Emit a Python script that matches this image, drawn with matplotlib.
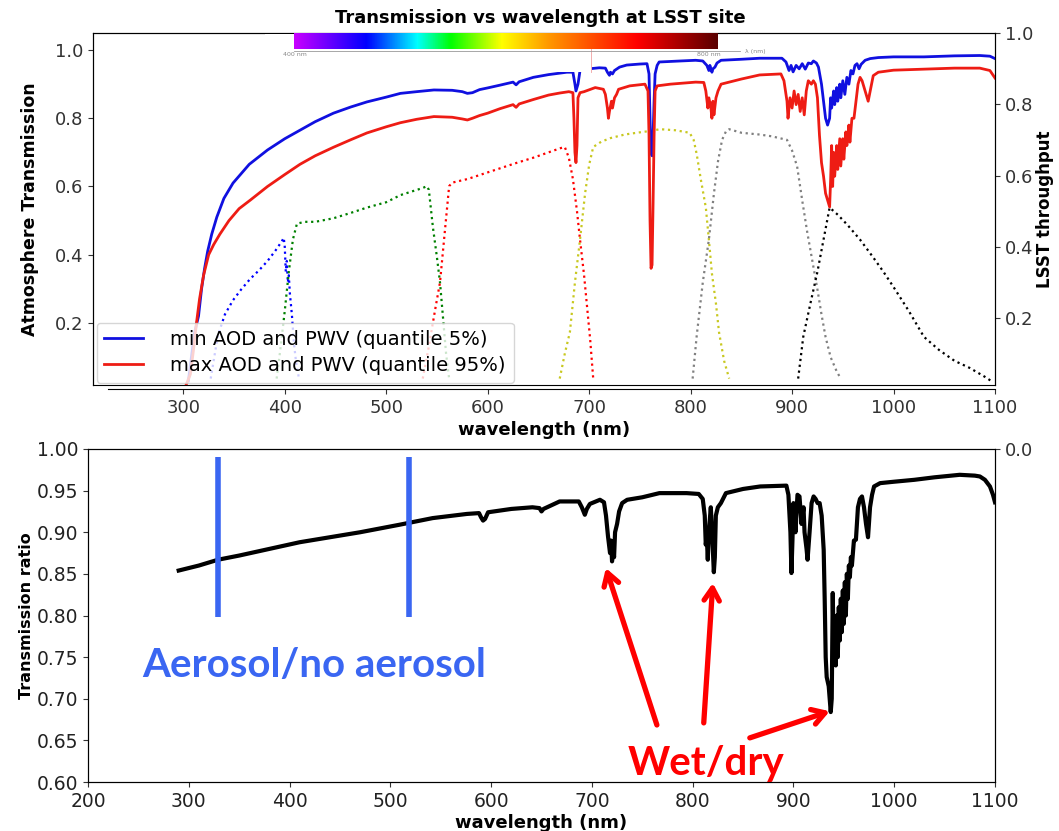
import matplotlib
matplotlib.use('Agg')
import matplotlib.pyplot as plt
import numpy as np
from matplotlib.colors import LinearSegmentedColormap

outfile = "out.png"

# ---- upper panel: atmosphere transmission (left axis) ----
min_wl = [305, 308, 311, 315, 318, 321, 324, 328, 333, 340, 349, 365, 383, 400, 415, 430, 448, 465, 481,
          500, 514, 530, 547, 565, 575, 580, 585, 592, 600, 612, 625, 628, 631, 645, 660, 678, 684, 686,
          687, 689, 691, 700, 710, 716, 718, 720, 721, 723, 725, 730, 737, 750, 757, 759, 760, 761, 762,
          763, 764, 765, 767, 769, 790, 805, 812, 816, 818, 819, 821, 822, 824, 826, 830, 850, 868, 890,
          894, 897, 899, 901, 904, 907, 910, 913, 916, 919, 921, 924, 926, 929, 931, 933, 935, 937, 938,
          939, 941, 942, 944, 945, 947, 948, 950, 952, 954, 956, 958, 960, 962, 964, 966, 968, 972, 977,
          985, 1000, 1030, 1060, 1085, 1095, 1100]
min_tr = [0.03, 0.10, 0.17, 0.22, 0.30, 0.36, 0.41, 0.46, 0.51, 0.565, 0.61, 0.665, 0.707, 0.74, 0.765,
          0.79, 0.815, 0.833, 0.848, 0.862, 0.873, 0.878, 0.883, 0.882, 0.878, 0.873, 0.875, 0.884, 0.889,
          0.897, 0.906, 0.898, 0.907, 0.92, 0.928, 0.935, 0.935, 0.90, 0.88, 0.90, 0.94, 0.945, 0.948,
          0.947, 0.935, 0.926, 0.935, 0.93, 0.94, 0.95, 0.956, 0.959, 0.96, 0.93, 0.80, 0.70, 0.69, 0.75,
          0.85, 0.93, 0.955, 0.965, 0.968, 0.97, 0.968, 0.955, 0.94, 0.955, 0.935, 0.945, 0.95, 0.962,
          0.97, 0.973, 0.976, 0.976, 0.965, 0.94, 0.955, 0.936, 0.955, 0.945, 0.96, 0.944, 0.962, 0.96,
          0.968, 0.962, 0.95, 0.90, 0.85, 0.80, 0.78, 0.80, 0.86, 0.83, 0.88, 0.84, 0.89, 0.85, 0.90, 0.86,
          0.91, 0.87, 0.92, 0.90, 0.94, 0.93, 0.955, 0.96, 0.945, 0.958, 0.97, 0.975, 0.978, 0.98, 0.98,
          0.983, 0.984, 0.982, 0.975]

max_wl = [303, 307, 310, 313, 316, 320, 325, 330, 336, 345, 355, 366, 383, 400, 415, 430, 448, 465, 481,
          500, 514, 530, 547, 565, 575, 580, 585, 592, 600, 612, 625, 628, 631, 645, 660, 671, 680, 684,
          685, 686, 687, 688, 689, 691, 695, 706, 714, 716, 718, 719, 720, 722, 723, 725, 727, 729, 740,
          755, 758, 759, 760, 761, 762, 763, 764, 765, 767, 780, 805, 813, 815, 817, 818, 820, 821, 822,
          823, 825, 827, 830, 850, 868, 889, 892, 895, 896, 898, 900, 902, 904, 906, 908, 910, 912, 914,
          916, 919, 921, 923, 925, 927, 929, 931, 933, 935, 937, 938, 939, 940, 941, 942, 944, 945, 947,
          948, 950, 951, 953, 954, 956, 957, 959, 961, 963, 965, 967, 969, 972, 975, 977, 980, 985, 1000,
          1030, 1060, 1085, 1095, 1100]
max_tr = [0.02, 0.05, 0.12, 0.20, 0.27, 0.34, 0.40, 0.43, 0.46, 0.50, 0.535, 0.56, 0.60, 0.635, 0.665,
          0.69, 0.715, 0.737, 0.757, 0.775, 0.787, 0.797, 0.805, 0.803, 0.798, 0.795, 0.80, 0.808, 0.815,
          0.828, 0.84, 0.832, 0.842, 0.855, 0.868, 0.874, 0.878, 0.875, 0.80, 0.70, 0.67, 0.72, 0.86,
          0.875, 0.878, 0.89, 0.885, 0.87, 0.83, 0.80, 0.82, 0.85, 0.83, 0.86, 0.87, 0.885, 0.895, 0.90,
          0.88, 0.75, 0.50, 0.36, 0.37, 0.55, 0.75, 0.88, 0.895, 0.90, 0.906, 0.905, 0.88, 0.83, 0.86,
          0.83, 0.80, 0.85, 0.81, 0.86, 0.88, 0.90, 0.915, 0.927, 0.93, 0.91, 0.85, 0.80, 0.86, 0.83, 0.88,
          0.84, 0.87, 0.82, 0.86, 0.81, 0.88, 0.91, 0.90, 0.91, 0.90, 0.86, 0.75, 0.67, 0.63, 0.58, 0.56,
          0.54, 0.62, 0.72, 0.60, 0.70, 0.63, 0.72, 0.65, 0.74, 0.66, 0.74, 0.68, 0.76, 0.72, 0.78, 0.73,
          0.80, 0.80, 0.85, 0.90, 0.92, 0.91, 0.88, 0.85, 0.88, 0.925, 0.935, 0.941, 0.944, 0.947, 0.947,
          0.94, 0.918]

# ---- LSST filter throughputs (right axis) ----
u_wl = [327, 334, 341, 349, 357, 366, 375, 383, 391, 397, 399, 400, 401, 402, 403, 404, 405, 407, 409, 411, 414]
u_tp = [0.03, 0.15, 0.21, 0.25, 0.28, 0.31, 0.335, 0.36, 0.39, 0.415, 0.425, 0.40, 0.33, 0.36, 0.30, 0.32,
        0.27, 0.21, 0.13, 0.08, 0.03]
g_wl = [392, 396, 400, 404, 408, 412, 420, 430, 448, 465, 481, 500, 514, 525, 536, 540, 542, 546, 550, 553,
        556, 559, 562]
g_tp = [0.03, 0.12, 0.22, 0.33, 0.42, 0.465, 0.47, 0.47, 0.48, 0.495, 0.51, 0.525, 0.545, 0.555, 0.565,
        0.57, 0.56, 0.455, 0.37, 0.30, 0.20, 0.10, 0.03]
r_wl = [536, 542, 548, 553, 558, 562, 565, 580, 596, 612, 628, 645, 660, 672, 676, 680, 684, 688, 691, 695,
        698, 701, 704]
r_tp = [0.03, 0.12, 0.22, 0.30, 0.45, 0.57, 0.58, 0.59, 0.605, 0.62, 0.635, 0.65, 0.665, 0.677, 0.68, 0.65,
        0.59, 0.50, 0.42, 0.32, 0.23, 0.14, 0.03]
i_wl = [671, 676, 681, 686, 691, 696, 700, 704, 712, 721, 735, 747, 760, 770, 785, 799, 803, 806, 810, 815,
        818, 821, 825, 828, 833, 838]
i_tp = [0.03, 0.10, 0.16, 0.30, 0.42, 0.55, 0.63, 0.68, 0.695, 0.705, 0.715, 0.72, 0.725, 0.73, 0.727, 0.72,
        0.70, 0.66, 0.59, 0.51, 0.42, 0.325, 0.24, 0.16, 0.08, 0.03]
z_wl = [802, 806, 812, 818, 823, 827, 831, 835, 838, 850, 868, 880, 895, 900, 905, 910, 915, 920, 925, 929,
        933, 938, 944, 948]
z_tp = [0.03, 0.15, 0.30, 0.42, 0.55, 0.64, 0.70, 0.725, 0.73, 0.72, 0.715, 0.71, 0.70, 0.67, 0.625, 0.53,
        0.44, 0.36, 0.28, 0.21, 0.147, 0.09, 0.05, 0.03]
y_wl = [906, 911, 918, 925, 931, 937, 945, 955, 967, 980, 990, 1000, 1015, 1030, 1045, 1060, 1075, 1090, 1098]
y_tp = [0.03, 0.147, 0.24, 0.33, 0.42, 0.51, 0.49, 0.46, 0.42, 0.37, 0.33, 0.287, 0.22, 0.147, 0.11, 0.08,
        0.06, 0.035, 0.02]

filters = [(u_wl, u_tp, 'blue'), (g_wl, g_tp, 'green'), (r_wl, r_tp, 'red'),
           (i_wl, i_tp, '#c8c820'), (z_wl, z_tp, 'grey'), (y_wl, y_tp, 'black')]

# ---- lower panel: transmission ratio ----
ratio_wl = [290, 310, 329, 350, 380, 410, 440, 470, 509, 542, 576, 588, 590, 592, 594, 597, 620, 641, 648,
            650, 652, 668, 687, 690, 693, 695, 698, 708, 712, 714, 716, 718, 719, 720, 721, 722, 723, 725,
            727, 730, 735, 750, 767, 780, 794, 806, 810, 812, 813, 814, 815, 816, 818, 819, 820, 821, 822,
            823, 825, 828, 833, 850, 867, 893, 895, 897, 898, 899, 900, 902, 904, 906, 908, 910, 911, 913,
            914, 916, 918, 920, 922, 924, 926, 928, 930, 931, 932, 933, 935, 936, 937, 938, 939, 940, 941,
            942, 943, 944, 945, 946, 947, 948, 949, 950, 951, 952, 953, 954, 955, 956, 957, 958, 960, 962,
            964, 966, 968, 970, 972, 974, 976, 978, 980, 986, 999, 1020, 1040, 1065, 1080, 1085, 1090, 1095,
            1098, 1100]
ratio = [0.854, 0.860, 0.867, 0.872, 0.880, 0.888, 0.894, 0.900, 0.909, 0.917, 0.922, 0.923, 0.918, 0.914,
         0.916, 0.924, 0.928, 0.930, 0.929, 0.925, 0.928, 0.937, 0.937, 0.930, 0.921, 0.928, 0.934, 0.939,
         0.936, 0.920, 0.895, 0.875, 0.890, 0.865, 0.885, 0.870, 0.900, 0.910, 0.925, 0.935, 0.939, 0.942,
         0.947, 0.947, 0.947, 0.946, 0.940, 0.920, 0.885, 0.895, 0.867, 0.900, 0.930, 0.905, 0.880, 0.852,
         0.870, 0.920, 0.930, 0.935, 0.947, 0.952, 0.955, 0.956, 0.945, 0.900, 0.851, 0.890, 0.935, 0.900,
         0.945, 0.943, 0.910, 0.930, 0.900, 0.880, 0.867, 0.900, 0.935, 0.943, 0.940, 0.935, 0.935, 0.920,
         0.879, 0.820, 0.750, 0.726, 0.715, 0.700, 0.684, 0.700, 0.827, 0.750, 0.780, 0.740, 0.800, 0.750,
         0.810, 0.770, 0.820, 0.780, 0.830, 0.790, 0.840, 0.800, 0.850, 0.820, 0.860, 0.846, 0.870, 0.860,
         0.890, 0.891, 0.930, 0.940, 0.943, 0.930, 0.910, 0.894, 0.930, 0.945, 0.955, 0.959, 0.9606, 0.963,
         0.966, 0.969, 0.968, 0.967, 0.963, 0.955, 0.945, 0.936]

aerosol_marks = [329, 519]  # wavelengths of the two blue markers

W, H = 1059, 831
fig = plt.figure(figsize=(W/100.0, H/100.0), dpi=100)

def fbox(x0, y0, x1, y1):
  # pixel box (top-left origin) -> figure fraction rect
  return [x0/W, 1 - y1/H, (x1 - x0)/W, (y1 - y0)/H]

tick_col = '#333333'

# ---------------- upper panel ----------------
ax = fig.add_axes(fbox(93, 33, 995, 385))
ax.plot(min_wl, min_tr, color='#1010e0', lw=2.0, label='min AOD and PWV (quantile 5%)')
ax.plot(max_wl, max_tr, color='#ee1c14', lw=2.0, label='max AOD and PWV (quantile 95%)')
ax.set_xlim(211, 1100)
ax.set_ylim(0.018, 1.05)
ax.set_xticks(np.arange(300, 1101, 100))
ax.set_yticks([0.2, 0.4, 0.6, 0.8, 1.0])
ax.tick_params(labelsize=13, labelcolor=tick_col, color=tick_col)
ax.spines['bottom'].set_position(('outward', 3))
ax.spines['bottom'].set_bounds(226, 1100)
ax.set_xlabel('wavelength (nm)', fontsize=13, fontweight='bold', labelpad=3)
ax.set_ylabel('Atmosphere Transmission', fontsize=12.5, fontweight='bold')
ax.yaxis.set_label_coords(-0.06, 0.5)
ax.legend(loc='lower left', bbox_to_anchor=(0.004, 0.006), borderaxespad=0, fontsize=14,
          handlelength=2.0, handletextpad=1.4, labelspacing=0.35, borderpad=0.4)

axr = ax.twinx()
for wl, tp, c in filters:
  axr.plot(wl, tp, ls=':', color=c, lw=1.6)
axr.set_ylim(0.012, 1.0)
axr.set_yticks([0.2, 0.4, 0.6, 0.8, 1.0])
axr.tick_params(labelsize=13, labelcolor=tick_col, color=tick_col)
axr.set_ylabel('LSST throughput', fontsize=12, fontweight='bold')
axr.yaxis.set_label_coords(1.046, 0.5)
ax.set_zorder(axr.get_zorder() + 1)
ax.patch.set_visible(False)

# white patch of the pasted spectrum strip
wb = fig.add_axes(fbox(265, 34, 592, 72))
wb.set_xticks([]); wb.set_yticks([])
for s in wb.spines.values():
  s.set_visible(False)
wb.set_facecolor('white')
wb.set_zorder(5)
fig.add_artist(plt.Line2D([591/W, 591/W], [1 - 72/H, 1 - 47/H], color='#f0a0a0', lw=0.6, zorder=6))

# spectrum colour strip
spec = LinearSegmentedColormap.from_list('spec', [(0.0, '#c800ff'), (0.17, '#0000ff'), (0.29, '#00ffff'),
                                                  (0.37, '#00ff00'), (0.49, '#ffff00'), (0.6, '#ff9900'),
                                                  (0.81, '#ff0000'), (1.0, '#5a0000')])
sb = fig.add_axes(fbox(294, 33, 717, 49))
sb.imshow(np.linspace(0, 1, 256)[None, :], aspect='auto', cmap=spec)
sb.set_xticks([]); sb.set_yticks([])
for s in sb.spines.values():
  s.set_visible(False)
sb.set_zorder(6)
fig.add_artist(plt.Line2D([294/W, 740/W], [1 - 51/H, 1 - 51/H], color='#999999', lw=0.6, zorder=6))
fig.text(295/W, 1 - 55/H, '400 nm', fontsize=4.5, color='#888888', ha='center', va='center', zorder=6)
fig.text(709/W, 1 - 55/H, '800 nm', fontsize=4.5, color='#888888', ha='center', va='center', zorder=6)
fig.text(745/W, 1 - 51/H, 'λ (nm)', fontsize=4.5, color='#888888', ha='left', va='center', zorder=6)

fig.text(540/W, 1 - 18/H, 'Transmission vs wavelength at LSST site', fontsize=13, fontweight='bold',
         ha='center', va='center')

# ---------------- lower panel ----------------
ax2 = fig.add_axes(fbox(88, 449, 995, 782))
ax2.plot(ratio_wl, ratio, color='black', lw=3.0)
ax2.set_xlim(200, 1100)
ax2.set_ylim(0.60, 1.00)
ax2.set_xticks(np.arange(200, 1101, 100))
ax2.set_yticks(np.arange(0.60, 1.001, 0.05))
ax2.yaxis.set_major_formatter(matplotlib.ticker.FormatStrFormatter('%.2f'))
ax2.tick_params(labelsize=13.5, labelcolor='#222222', color=tick_col)
ax2.set_xlabel('wavelength (nm)', fontsize=13, fontweight='bold', labelpad=2)
ax2.set_ylabel('Transmission ratio', fontsize=11.5, fontweight='bold')
ax2.yaxis.set_label_coords(-0.06, 0.5)

ax2r = ax2.twinx()
ax2r.set_ylim(-1, 0)
ax2r.set_yticks([0.0])
ax2r.set_yticklabels(['0.0'])
ax2r.tick_params(labelsize=13, labelcolor=tick_col, color=tick_col)

blue_ann = '#3a66f2'
ax2.vlines(aerosol_marks, 0.798, 0.99, color=blue_ann, lw=4)
ax2.text(424, 0.726, 'Aerosol/no aerosol', color=blue_ann, fontsize=29, fontweight='bold',
         family='Lato', ha='center', va='baseline')
ax2.text(813, 0.608, 'Wet/dry', color='#ff0000', fontsize=29, fontweight='bold',
         family='Lato', ha='center', va='baseline')
arrows = [((764.5, 0.6685), (713.9, 0.857)), ((811, 0.671), (820, 0.839)), ((856.7, 0.653), (936, 0.685))]
for tail, head in arrows:
  ax2.annotate('', xy=head, xytext=tail,
               arrowprops=dict(arrowstyle='->,head_length=0.9,head_width=0.55', color='#ff0000', lw=3.8,
                               shrinkA=0, shrinkB=0))

fig.savefig(outfile, dpi=100)
print(f'wrote output file {outfile}')
